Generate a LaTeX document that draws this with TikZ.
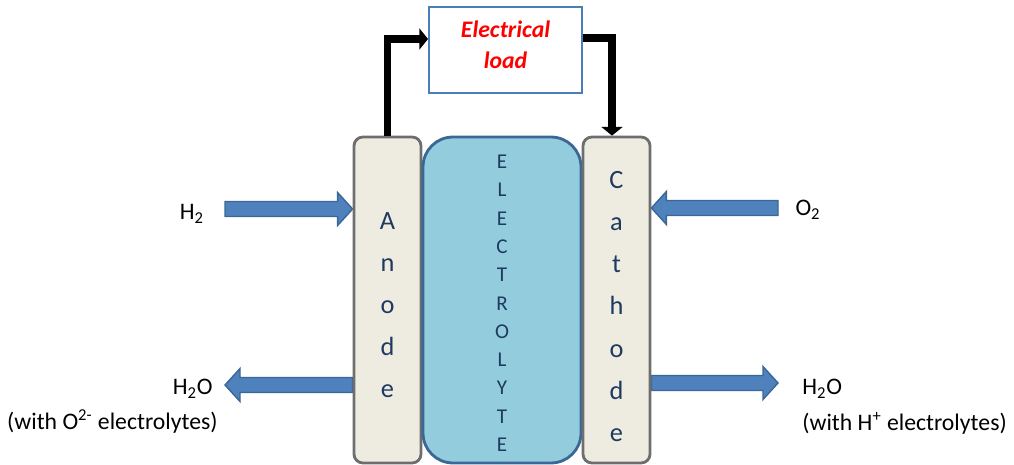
\documentclass[tikz,border=0pt]{standalone}
\usepackage{fontspec}
\setmainfont{Carlito}
\usetikzlibrary{
  arrows.meta,
  calc,
  positioning,
  backgrounds
}
\definecolor{fcPlate}{HTML}{EEECE1}
\definecolor{fcPlateEdge}{HTML}{6E6E6E}
\definecolor{fcElyte}{HTML}{93CDDD}
\definecolor{fcElyteEdge}{HTML}{3A6796}
\definecolor{fcInk}{HTML}{1F3A60}
\definecolor{fcArrow}{HTML}{4F81BD}
\definecolor{fcArrowEdge}{HTML}{3A6796}
\definecolor{fcLoadEdge}{HTML}{4A7EBB}
\definecolor{fcRed}{HTML}{FF0000}
\tikzset{
  plate/.style={
    draw=fcPlateEdge, fill=fcPlate, line width=1.6pt, rounded corners=5pt,
    minimum width=1.34cm, minimum height=6.52cm, align=center, text=fcInk,
    font=\fontsize{15}{24}\selectfont, text depth=0pt
  },
  elyte/.style={
    draw=fcElyteEdge, fill=fcElyte, line width=1.6pt, rounded corners=17pt,
    minimum width=3.16cm, minimum height=6.52cm, align=center, text=fcInk,
    font=\fontsize{12}{16.1}\selectfont, text depth=0pt, text height=172.5pt
  },
  loadbox/.style={
    draw=fcLoadEdge, fill=white, line width=1.1pt, minimum width=3.06cm,
    minimum height=1.72cm, align=center, text=fcRed, text depth=0.2cm,
    font=\fontsize{13.5}{17.6}\selectfont\bfseries\itshape
  },
  wire/.style={line width=4.5pt, line join=miter, -{Triangle[length=5pt, width=12pt]}},
  gas/.style={font=\fontsize{13.5}{17}\selectfont, inner sep=0pt},
  feed/.style={
    draw=fcArrowEdge, fill=fcArrow, line width=0.8pt, line join=miter,
    to path={
      let \p1=(\tikztostart), \p2=(\tikztotarget), \n1={sign(\x2-\x1)*0.3cm} in
      (\x1,{\y1+0.15cm}) -- ({\x2-\n1},{\y1+0.15cm}) -- ({\x2-\n1},{\y1+0.33cm})
      -- (\x2,\y1) -- ({\x2-\n1},{\y1-0.33cm}) -- ({\x2-\n1},{\y1-0.15cm})
      -- (\x1,{\y1-0.15cm}) -- cycle
    }
  }
}
\begin{document}
\begin{tikzpicture}[x=0.02cm, y=-0.02cm]
  \useasboundingbox (0,0) rectangle (1014,465);
  % cell
  \node[plate, text height=111.5pt] (anode) at (387.5,300) {A\\n\\o\\d\\e};
  \node[elyte] (elyte) at (502,300) {E\\L\\E\\C\\T\\R\\O\\L\\Y\\T\\E};
  \node[plate, text height=161pt] (cathode) at (616.5,300) {C\\a\\t\\h\\o\\d\\e};
  \node[loadbox] (load) at (505.5,50) {Electrical\\load};
  % external circuit
  \draw[wire] (anode.north) |- ([yshift=0.22cm]load.west);
  \draw[wire] ([yshift=0.24cm]load.east) -| ([xshift=-0.09cm]cathode.north);
  % gases in and out
  \node[gas, anchor=base] (h2) at (192,220) {H\textsubscript{2}};
  \node[gas, anchor=base east] (h2oa) at (213,395) {H\textsubscript{2}O};
  \node[gas, anchor=base east] (h2oanote) at (218,430) {(with O\textsuperscript{2-} electrolytes)};
  \node[gas, anchor=base] (o2) at (808,216) {O\textsubscript{2}};
  \node[gas, anchor=base west] (h2oc) at (802,395) {H\textsubscript{2}O};
  \node[gas, anchor=base west] (h2ocnote) at (802,431) {(with H\textsuperscript{+} electrolytes)};
  \coordinate (h2tail) at (225,209);
  \coordinate (o2tail) at (778,208);
  \coordinate (h2oatip) at (225,385);
  \coordinate (h2octip) at (778,383);
  \begin{scope}[on background layer]
    \draw[feed] (h2tail) to (h2tail -| anode.west);
    \draw[feed] (o2tail) to (o2tail -| cathode.east);
    \draw[feed] (anode.west |- h2oatip) to (h2oatip);
    \draw[feed] (cathode.east |- h2octip) to (h2octip);
  \end{scope}
\end{tikzpicture}
\end{document}
